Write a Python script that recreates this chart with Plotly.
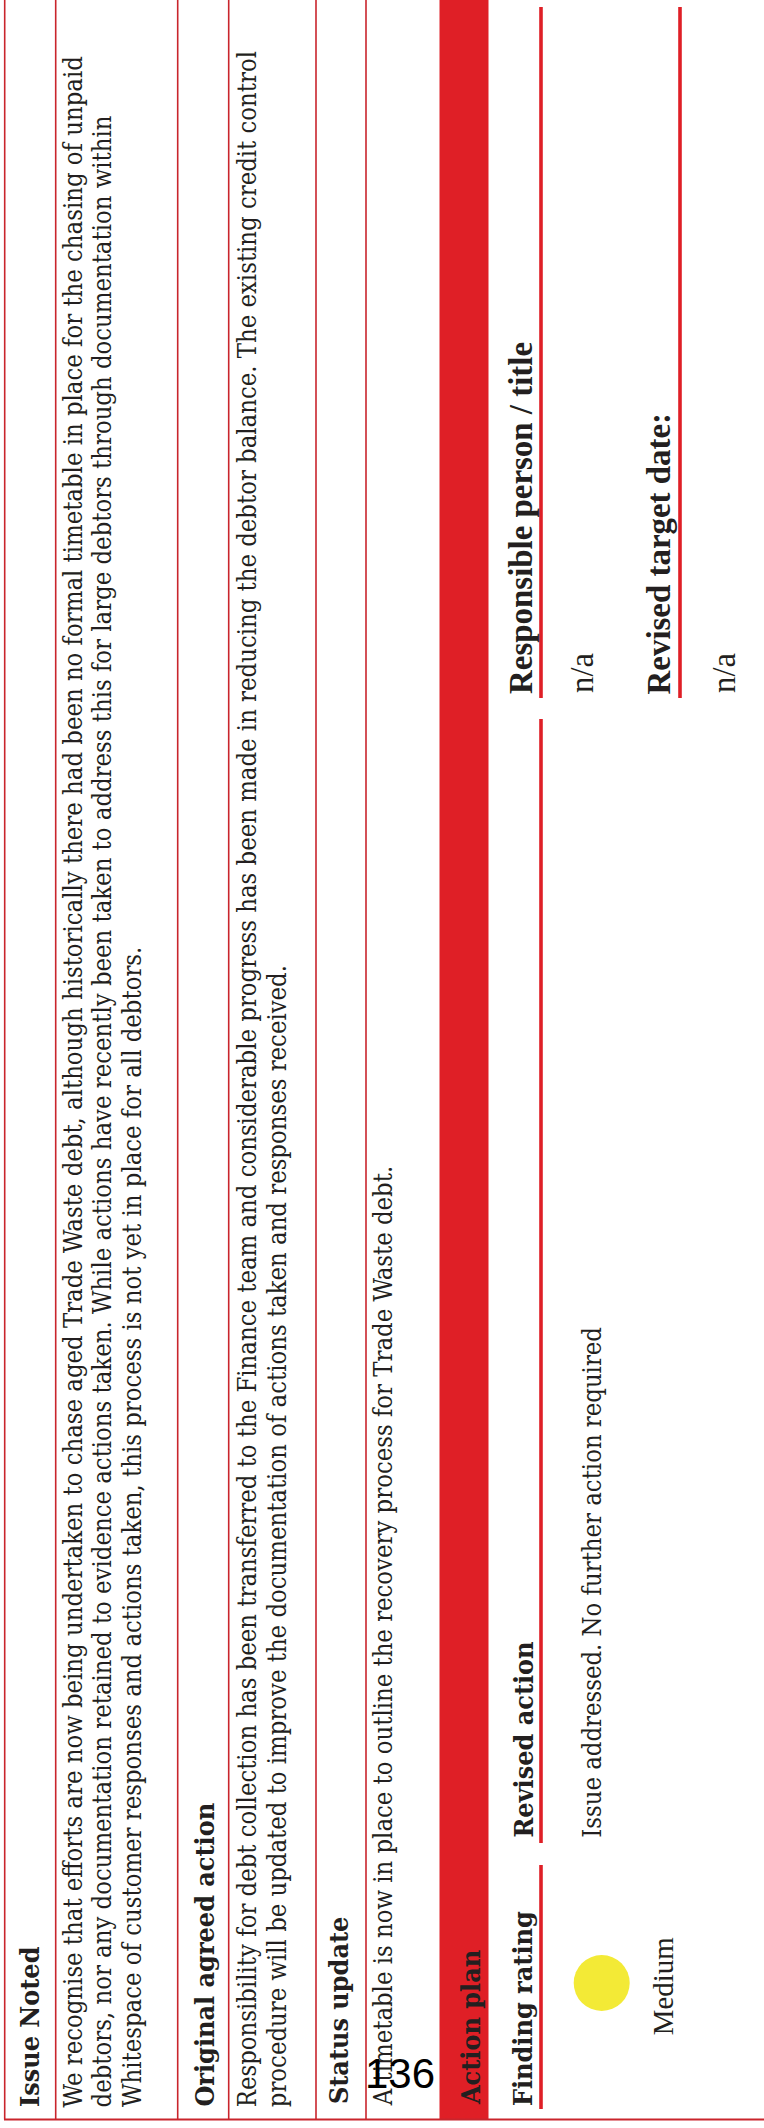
import os
import struct
import plotly.graph_objects as go

# ---------------- data (text content) ----------------
section_titles = ["Issue Noted", "Original agreed action", "Status update"]
issue_lines = [
    "We recognise that efforts are now being undertaken to chase aged Trade Waste debt, although historically there had been no formal timetable in place for the chasing of unpaid",
    "debtors, nor any documentation retained to evidence actions taken. While actions have recently been taken to address this for large debtors through documentation within",
    "Whitespace of customer responses and actions taken, this process is not yet in place for all debtors.",
]
original_lines = [
    "Responsibility for debt collection has been transferred to the Finance team and considerable progress has been made in reducing the debtor balance. The existing credit control",
    "procedure will be updated to improve the documentation of actions taken and responses received.",
]
status_lines = ["A timetable is now in place to outline the recovery process for Trade Waste debt."]
action_plan_title = "Action plan"
plan_headers = ["Finding rating", "Revised action", "Responsible person / title"]
rating_label = "Medium"
revised_action_text = "Issue addressed. No further action required"
responsible_value = "n/a"
target_header = "Revised target date:"
target_value = "n/a"
page_number = "136"

# ---------------- styling / layout constants ----------------
W, H = 764, 2128
TXT = "#231f20"
THIN_RED = "#c9252c"
BRIGHT_RED = "#df1f26"
YELLOW = "#f3ea36"


# ---- small TrueType reader used only to pick font sizes that match the page ----
def find_font(names):
    for root in ["/usr/share/fonts", "/usr/local/share/fonts", os.path.expanduser("~/.fonts"),
                 os.path.expanduser("~/.local/share/fonts")]:
        for dp, _, fns in os.walk(root):
            for n in names:
                if n in fns:
                    return os.path.join(dp, n)
    return None


def font_metrics(path):
    try:
        data = open(path, "rb").read()
        nt = struct.unpack(">H", data[4:6])[0]
        tabs = {}
        for i in range(nt):
            o = 12 + 16 * i
            tabs[data[o:o + 4].decode("latin1")] = struct.unpack(">I", data[o + 8:o + 12])[0]
        upem = struct.unpack(">H", data[tabs["head"] + 18:tabs["head"] + 20])[0]
        hh = tabs["hhea"]
        asc, dsc = struct.unpack(">hh", data[hh + 4:hh + 8])
        nhm = struct.unpack(">H", data[hh + 34:hh + 36])[0]
        hm = tabs["hmtx"]
        adv = [struct.unpack(">H", data[hm + 4 * i:hm + 4 * i + 2])[0] for i in range(nhm)]
        co = tabs["cmap"]
        n = struct.unpack(">H", data[co + 2:co + 4])[0]
        sub = None
        for i in range(n):
            pid, eid, so = struct.unpack(">HHI", data[co + 4 + 8 * i:co + 12 + 8 * i])
            if struct.unpack(">H", data[co + so:co + so + 2])[0] == 4 and pid in (0, 3):
                sub = co + so
                break
        sx2 = struct.unpack(">H", data[sub + 6:sub + 8])[0]
        sc = sx2 // 2
        ends = struct.unpack(">%dH" % sc, data[sub + 14:sub + 14 + sx2])
        so_ = sub + 16 + sx2
        starts = struct.unpack(">%dH" % sc, data[so_:so_ + sx2])
        do_ = so_ + sx2
        deltas = struct.unpack(">%dh" % sc, data[do_:do_ + sx2])
        ro_ = do_ + sx2
        ros = struct.unpack(">%dH" % sc, data[ro_:ro_ + sx2])

        def gid(c):
            for i in range(sc):
                if ends[i] >= c:
                    if starts[i] > c:
                        return 0
                    if ros[i] == 0:
                        return (c + deltas[i]) & 0xFFFF
                    a = ro_ + 2 * i + ros[i] + 2 * (c - starts[i])
                    g = struct.unpack(">H", data[a:a + 2])[0]
                    return (g + deltas[i]) & 0xFFFF if g else 0
            return 0

        def width(s):
            return sum(adv[min(gid(ord(ch)), nhm - 1)] for ch in s) / upem

        return width, asc / upem, -dsc / upem
    except Exception:
        return None


def pick(files, family, fallback):
    p = find_font(files)
    m = font_metrics(p) if p else None
    return (family, m) if m else (fallback[0], None)


cond_r = find_font(["DejaVuSerifCondensed.ttf"])
if cond_r:
    BODY_FONT = "DejaVu Serif Condensed"
    body_m = font_metrics(cond_r)
    bold_p = find_font(["DejaVuSerifCondensed-Bold.ttf"])
    head_m = font_metrics(bold_p) if bold_p else None
else:
    BODY_FONT = "DejaVu Serif"
    p = find_font(["DejaVuSerif.ttf"])
    body_m = font_metrics(p) if p else None
    p = find_font(["DejaVuSerif-Bold.ttf"])
    head_m = font_metrics(p) if p else None
TIMES_FONT = "Liberation Serif"
p = find_font(["LiberationSerif-Regular.ttf"])
times_m = font_metrics(p) if p else None
p = find_font(["LiberationSerif-Bold.ttf"])
timesb_m = font_metrics(p) if p else None
SANS_FONT = "Liberation Sans, Arial, sans-serif"


def fit(m, pairs, default):
    if not m:
        return default
    vals = sorted(L / m[0](t) for t, L in pairs)
    return vals[len(vals) // 2]


def koff(m):
    return (m[1] - m[2]) / 2 if m else 0.345


# measured lengths on the page (px) of each text run
HEAD = fit(head_m, [(section_titles[0], 160), (section_titles[1], 304), (section_titles[2], 185),
                    (action_plan_title, 155), (plan_headers[0], 195), (plan_headers[1], 200)], 26)
BODY = fit(body_m, [(issue_lines[0], 2057), (original_lines[0], 2060), (revised_action_text, 511)], 25.5)
TB = fit(timesb_m, [(plan_headers[2], 352), (target_header, 271)], 33)
TR_NA = fit(times_m, [(responsible_value, 40)], 33)
TR_MED = fit(times_m, [(rating_label, 98)], 30)

fig = go.Figure()
fig.update_layout(
    width=W, height=H, margin=dict(l=0, r=0, t=0, b=0),
    paper_bgcolor="white", plot_bgcolor="white", showlegend=False,
    xaxis=dict(range=[0, W], visible=False, fixedrange=True),
    yaxis=dict(range=[H, 0], visible=False, fixedrange=True),
)

shapes = []
shapes.append(dict(type="rect", x0=439.5, x1=488.5, y0=0, y1=2119, fillcolor=BRIGHT_RED,
                   line=dict(width=0), layer="below"))
for xv in [4.7, 55.7, 177.7, 228.7, 316, 366]:
    shapes.append(dict(type="line", x0=xv, x1=xv, y0=0, y1=2119.5,
                       line=dict(color=THIN_RED, width=1.6)))
shapes.append(dict(type="line", x0=4, x1=W, y0=2119.5, y1=2119.5,
                   line=dict(color=THIN_RED, width=1.8)))
for (xv, ya, yb) in [(541, 7, 698), (541, 719, 1843), (541, 1865, 2109), (680, 7, 698)]:
    shapes.append(dict(type="line", x0=xv, x1=xv, y0=ya, y1=yb,
                       line=dict(color=BRIGHT_RED, width=3.6)))
shapes.append(dict(type="circle", x0=601.7 - 28, x1=601.7 + 28, y0=1983 - 28, y1=1983 + 28,
                   fillcolor=YELLOW, line=dict(width=0)))
fig.update_layout(shapes=shapes)


def vtext(text, baseline, start_y, size, family, m, bold=False, color=TXT, anchor="bottom"):
    fig.add_annotation(
        x=baseline - koff(m) * size, y=start_y, xref="x", yref="y",
        text=f"<b>{text}</b>" if bold else text,
        showarrow=False, textangle=-90, xanchor="center", yanchor=anchor,
        font=dict(family=family, size=size, color=color),
        borderpad=0, borderwidth=0, align="left",
    )


vtext(section_titles[0], 39, 2107, HEAD, BODY_FONT, head_m, bold=True)
for ln, b in zip(issue_lines, [81.7, 111.2, 140.7]):
    vtext(ln, b, 2107, BODY, BODY_FONT, body_m)
vtext(section_titles[1], 213, 2107, HEAD, BODY_FONT, head_m, bold=True)
for ln, b in zip(original_lines, [256, 286]):
    vtext(ln, b, 2107, BODY, BODY_FONT, body_m)
vtext(section_titles[2], 348, 2104, HEAD, BODY_FONT, head_m, bold=True)
for ln, b in zip(status_lines, [392]):
    vtext(ln, b, 2106, BODY, BODY_FONT, body_m)

vtext(action_plan_title, 480, 2105, HEAD, BODY_FONT, head_m, bold=True)

vtext(plan_headers[0], 532, 2106, HEAD, BODY_FONT, head_m, bold=True)
vtext(plan_headers[1], 532, 1838, HEAD, BODY_FONT, head_m, bold=True)
vtext(plan_headers[2], 532, 694, TB, TIMES_FONT, timesb_m, bold=True)
vtext(revised_action_text, 600, 1838, BODY, BODY_FONT, body_m)
vtext(responsible_value, 593, 693, TR_NA, TIMES_FONT, times_m)
vtext(target_header, 670, 694, TB, TIMES_FONT, timesb_m, bold=True)
vtext(target_value, 735, 693, TR_NA, TIMES_FONT, times_m)
vtext(rating_label, 673, 1986, TR_MED, TIMES_FONT, times_m, anchor="middle")

fig.add_annotation(x=399.5, y=2073.5, xref="x", yref="y", text=page_number, showarrow=False,
                   xanchor="center", yanchor="middle", borderpad=0,
                   font=dict(family=SANS_FONT, size=42, color="#000000"))

fig.write_html("out.html", config={"displayModeBar": False},
               post_script="document.body.style.margin='0';document.body.style.overflow='hidden';")
